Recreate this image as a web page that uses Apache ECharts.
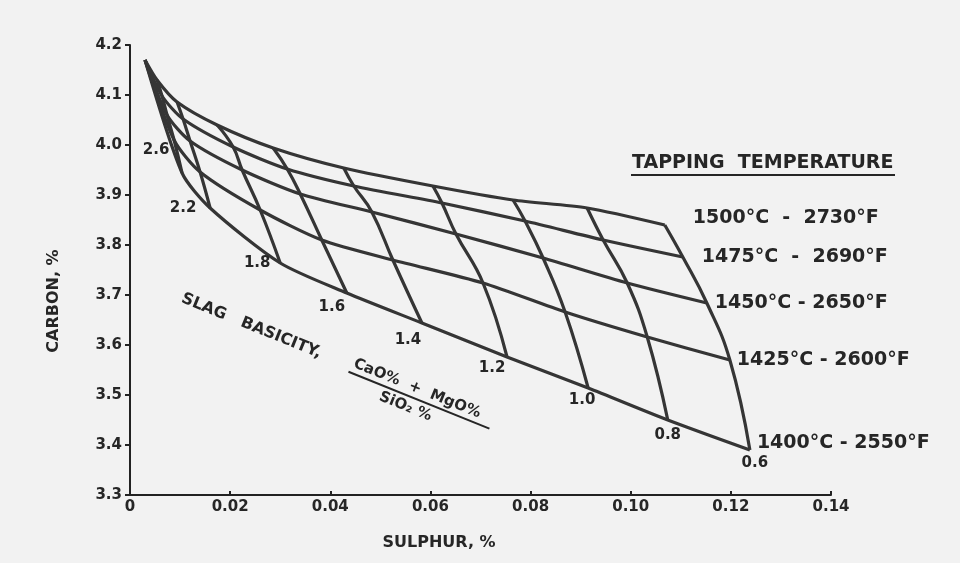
<!DOCTYPE html>
<html>
<head>
<meta charset="utf-8">
<script src="https://cdn.jsdelivr.net/npm/echarts@6/dist/echarts.min.js"></script>
<style>
html,body{margin:0;padding:0;background:#f2f2f2;}
#chart{width:960px;height:563px;}
</style>
</head>
<body>
<div id="chart"></div>
<script>
// ---- data ----
const basicities = ['2.6','2.2','1.8','1.6','1.4','1.2','1.0','0.8','0.6'];
const temperatures = ['1400°C - 2550°F','1425°C - 2600°F','1450°C - 2650°F','1475°C  -  2690°F','1500°C  -  2730°F'];
const convergence = [0.003, 4.17];
// sulphur (%) at each basicity, per tapping temperature
const s1400 = [0.0104,0.0160,0.0300,0.0433,0.0583,0.0753,0.0915,0.1074,0.1238];
const s1425 = [0.0088,0.0140,0.0260,0.0383,0.0525,0.0705,0.0869,0.1033,0.1198];
const s1450 = [0.0074,0.0120,0.0224,0.0340,0.0483,0.0651,0.0825,0.0993,0.1152];
const s1475 = [0.0064,0.0106,0.0206,0.0314,0.0447,0.0623,0.0789,0.0945,0.1104];
const s1500 = [0.0054,0.0094,0.0174,0.0286,0.0427,0.0605,0.0765,0.0913,0.1068];
// carbon (%) at each basicity, per tapping temperature
const c1400 = [3.944,3.874,3.764,3.704,3.644,3.576,3.514,3.450,3.390];
const c1425 = [4.010,3.946,3.870,3.810,3.770,3.724,3.666,3.616,3.570];
const c1450 = [4.060,4.008,3.950,3.902,3.866,3.822,3.774,3.724,3.684];
const c1475 = [4.098,4.052,3.996,3.952,3.918,3.884,3.848,3.810,3.776];
const c1500 = [4.130,4.086,4.040,3.994,3.954,3.918,3.890,3.874,3.840];
const xTickLabels = ['0','0.02','0.04','0.06','0.08','0.10','0.12','0.14'];
const yTickLabels = ['3.3','3.4','3.5','3.6','3.7','3.8','3.9','4.0','4.1','4.2'];

// ---- styling / layout ----
const sArr = [s1400,s1425,s1450,s1475,s1500];
const cArr = [c1400,c1425,c1450,c1475,c1500];
const INK = '#353535';
const TXT = '#262626';
const FONT = 'DejaVu Sans';
const basOffsets = [[-26,-23],[-27,0],[-23,0],[-15,14],[-14,17],[-15,11],[-6,12],[0,15],[5,13]];
const tempOffsets = [[7,-7],[7,0],[8,0],[19,0],[28,-7]];

const series = [];
temperatures.forEach((t,i)=>{
  const data = [convergence.slice()];
  basicities.forEach((b,j)=>data.push([sArr[i][j], cArr[i][j]]));
  series.push({type:'line', name:t, data, symbol:'none', smooth:0.25,
    lineStyle:{color:INK, width:3.2}, z:2, silent:true});
});
basicities.forEach((b,j)=>{
  const data = sArr.map((s,i)=>[s[j], cArr[i][j]]);
  series.push({type:'line', name:'B'+b, data, symbol:'none', smooth:0.45,
    lineStyle:{color:INK, width:3.2}, z:2, silent:true});
});
series.push({type:'scatter', symbolSize:0, silent:true, z:5, itemStyle:{opacity:1},
  data: basicities.map((b,j)=>({value:[s1400[j], c1400[j]], name:b, label:{offset:basOffsets[j]}})),
  label:{show:true, position:'inside', formatter:'{b}', color:TXT, textBorderWidth:0, fontFamily:FONT, fontWeight:'bold', fontSize:15}
});
series.push({type:'scatter', symbolSize:0, silent:true, z:5, itemStyle:{opacity:1},
  data: temperatures.map((t,i)=>({value:[sArr[i][8], cArr[i][8]], name:t, label:{offset:tempOffsets[i]}})),
  label:{show:true, position:'right', distance:0, align:'left', formatter:'{b}', color:TXT, textBorderWidth:0, fontFamily:FONT, fontWeight:'bold', fontSize:19}
});

const chart = echarts.init(document.getElementById('chart'));
chart.setOption({
  backgroundColor:'#f2f2f2',
  animation:false,
  grid:{left:130, right:129, top:45, bottom:68},
  xAxis:{type:'value', min:0, max:0.14, interval:0.02,
    axisLine:{lineStyle:{color:'#222', width:2}},
    axisTick:{inside:true, length:4, lineStyle:{color:'#222', width:2}},
    splitLine:{show:false},
    axisLabel:{margin:5, color:TXT, fontFamily:FONT, fontWeight:'bold', fontSize:15,
      formatter:(v)=>xTickLabels[Math.round(v/0.02)]}
  },
  yAxis:{type:'value', min:3.3, max:4.2, interval:0.1,
    axisLine:{lineStyle:{color:'#222', width:2}},
    axisTick:{length:5, lineStyle:{color:'#222', width:2}},
    splitLine:{show:false},
    axisLabel:{margin:8, color:TXT, fontFamily:FONT, fontWeight:'bold', fontSize:15,
      formatter:(v)=>yTickLabels[Math.round((v-3.3)/0.1)]}
  },
  graphic:[
    {type:'text', x:54, y:301, rotation:Math.PI/2,
      style:{text:'CARBON, %', fill:TXT, font:'bold 16px "DejaVu Sans"', align:'center', verticalAlign:'middle'}},
    {type:'text', x:439, y:543,
      style:{text:'SULPHUR, %', fill:TXT, font:'bold 16px "DejaVu Sans"', align:'center', verticalAlign:'middle'}},
    {type:'text', x:632, y:163,
      style:{text:'TAPPING  TEMPERATURE', fill:TXT, font:'bold 19px "DejaVu Sans"', align:'left', verticalAlign:'middle'}},
    {type:'line', shape:{x1:631, y1:175, x2:895, y2:175}, style:{stroke:TXT, lineWidth:2}},
    {type:'group', x:182, y:298, rotation:-22*Math.PI/180, children:[
      {type:'text', x:0, y:0, style:{text:'SLAG   BASICITY,', fill:TXT, font:'bold 16px "DejaVu Sans"', align:'left', verticalAlign:'middle'}},
      {type:'text', x:184, y:-4, style:{text:'CaO%  +  MgO%', fill:TXT, font:'bold 15px "DejaVu Sans"', align:'left', verticalAlign:'middle'}},
      {type:'line', shape:{x1:182, y1:6, x2:334, y2:6}, style:{stroke:TXT, lineWidth:2}},
      {type:'text', x:220, y:17, style:{text:'SiO₂ %', fill:TXT, font:'bold 15px "DejaVu Sans"', align:'left', verticalAlign:'middle'}}
    ]}
  ],
  series
});
</script>
</body>
</html>
